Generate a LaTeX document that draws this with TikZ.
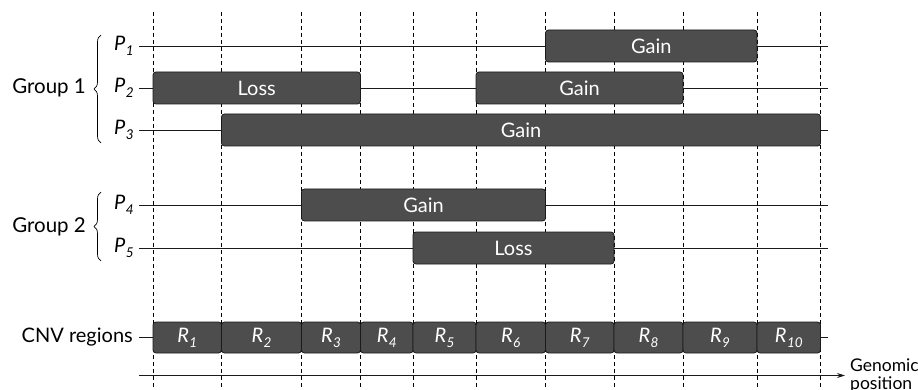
\documentclass[tikz,border=0pt]{standalone}
\usepackage{fontspec}
\setmainfont{Lato}
\usetikzlibrary{arrows.meta,decorations.pathreplacing}
\definecolor{boxgray}{HTML}{4D4D4D}
\definecolor{inkline}{HTML}{1A1A1A}
\tikzset{
  seg/.style={draw=inkline, fill=boxgray, line width=0.8pt, rounded corners=3pt,
    text=white, font=\fontsize{20}{22}\selectfont, inner sep=0pt, minimum height=32pt},
  rowlabel/.style={anchor=east, inner sep=0pt, inner xsep=5pt, font=\fontsize{20}{22}\selectfont},
  grouplabel/.style={anchor=east, inner sep=0pt, font=\fontsize{20.5}{22}\selectfont},
  rowline/.style={draw=inkline, line width=0.8pt},
  grid/.style={draw=black, line width=0.8pt, dash pattern=on 4pt off 3pt},
  groupbrace/.style={draw=black, line width=0.7pt, decorate,
    decoration={brace, amplitude=7pt, mirror}}
}
\newcommand{\Pl}[1]{\textit{P\kern0.5pt\raisebox{-5pt}{\fontsize{13.5}{13.5}\selectfont#1}}}
\newcommand{\Rl}[1]{\textit{R\kern0.5pt\raisebox{-5pt}{\fontsize{13.5}{13.5}\selectfont#1}}}
\begin{document}
\begin{tikzpicture}[x=1pt, y=-1pt]
\useasboundingbox (0,0) rectangle (918,390);

% vertical region boundaries
\foreach \gx in {153,221.5,301.5,360.5,413,476,545.5,614,683,757,820.5}
  \draw[grid] (\gx,12) -- (\gx,392);

% row labels
\node[rowlabel] (p1) at (139,46)  {\Pl{1}};
\node[rowlabel] (p2) at (139,88)  {\Pl{2}};
\node[rowlabel] (p3) at (139,130) {\Pl{3}};
\node[rowlabel] (p4) at (139,205) {\Pl{4}};
\node[rowlabel] (p5) at (139,248) {\Pl{5}};
\node[rowlabel, inner xsep=6pt] (cnv) at (139,337) {CNV regions};

% row ends
\coordinate (e1) at (828,46);
\coordinate (e2) at (828,88);
\coordinate (e3) at (828,130);
\coordinate (e4) at (828,205);
\coordinate (e5) at (828,248);
\coordinate (e6) at (828,337);

\draw[rowline] (p1.east) -- (e1);
\draw[rowline] (p2.east) -- (e2);
\draw[rowline] (p3.east) -- (e3);
\draw[rowline] (p4.east) -- (e4);
\draw[rowline] (p5.east) -- (e5);
\draw[rowline] (cnv.east) -- (e6);

% copy-number segments
\node[seg, minimum width=211.5pt] (g1) at (651.25,46) {Gain};
\node[seg, minimum width=207.5pt] (l2) at (256.75,88) {Loss};
\node[seg, minimum width=207pt]   (g2) at (579.5,88)  {Gain};
\node[seg, minimum width=599pt]   (g3) at (521,130)   {Gain};
\node[seg, minimum width=244pt]   (g4) at (423.5,205) {Gain};
\node[seg, minimum width=201pt]   (l5) at (513.5,248) {Loss};

% CNV regions
\foreach \a/\b/\i in {153/221.5/1, 221.5/301.5/2, 301.5/360.5/3, 360.5/413/4,
    413/476/5, 476/545.5/6, 545.5/614/7, 614/683/8, 683/757/9, 757/820.5/10} {
  \pgfmathsetmacro{\cx}{(\a+\b)/2}
  \pgfmathsetmacro{\w}{\b-\a}
  \node[seg, minimum width=\w pt, minimum height=31pt] (r\i) at (\cx,337.5) {\Rl{\i}};
}

% group braces and labels
\coordinate (b1t) at (101,35);
\coordinate (b1b) at (101,143);
\coordinate (b2t) at (101,192);
\coordinate (b2b) at (101,261);
\draw[groupbrace] (b1t) -- (b1b);
\draw[groupbrace] (b2t) -- (b2b);
\node[grouplabel] (grp1) at (86,88)  {Group 1};
\node[grouplabel] (grp2) at (86,226.5) {Group 2};

% genomic axis
\coordinate (ax0) at (139,375.5);
\node[anchor=west, inner sep=0pt, inner xsep=5pt, align=left,
  font=\fontsize{17.5}{18}\selectfont] (gp) at (845,375.5) {Genomic\\position};
\draw[rowline, -{Stealth[length=8pt,width=5pt]}] (ax0) -- (gp.west);
\end{tikzpicture}
\end{document}
